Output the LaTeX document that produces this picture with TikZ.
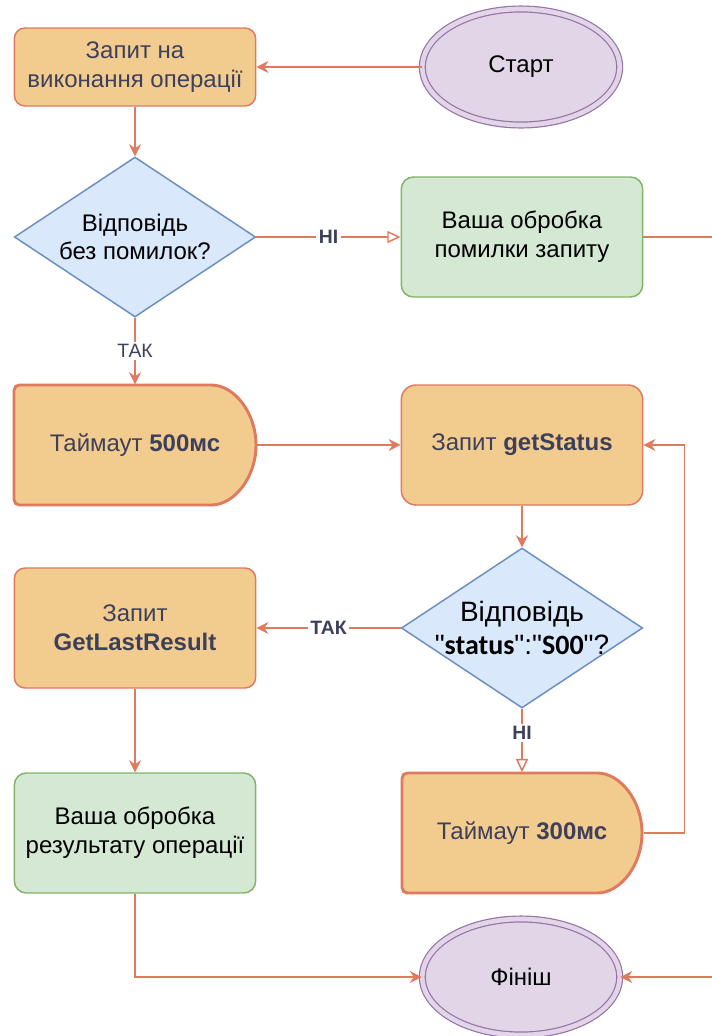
\documentclass[tikz,border=0pt]{standalone}
\usepackage{fontspec}
\setmainfont{Liberation Sans}
\newfontfamily\jsonfont{Carlito}
\newfontfamily\quotefont[Ligatures=ResetAll]{Liberation Sans}
\newcommand{\qm}{{\quotefont\char34}}
\usetikzlibrary{shapes.geometric, arrows.meta, positioning}
\definecolor{procfill}{HTML}{F2CC8F}
\definecolor{procline}{HTML}{E07A5F}
\definecolor{textdark}{HTML}{3D405B}
\definecolor{resfill}{HTML}{D5E8D4}
\definecolor{resline}{HTML}{82B366}
\definecolor{askfill}{HTML}{DAE8FC}
\definecolor{askline}{HTML}{6C8EBF}
\definecolor{termfill}{HTML}{E1D5E7}
\definecolor{termline}{HTML}{9673A6}

\begin{document}
\begin{tikzpicture}[
    x=0.75pt, y=-0.75pt,
    base/.style={align=center, font=\fontsize{18}{21.5}\selectfont, inner sep=2pt, line width=1.1pt},
    process/.style={base, rectangle, rounded corners=8pt, draw=procline, fill=procfill, text=textdark, minimum width=181pt, minimum height=90pt},
    result/.style={base, rectangle, rounded corners=9pt, draw=resline, fill=resfill, minimum width=181pt, minimum height=90pt},
    decision/.style={base, diamond, aspect=1.5, inner xsep=0pt, inner ysep=-7pt, draw=askline, fill=askfill, minimum width=181pt, minimum height=120pt},
    terminal/.style={base, ellipse, draw=termline, fill=termfill, double=termfill, double distance=3.5pt, line width=0.9pt, minimum width=148pt, minimum height=87pt},
    delayline/.style={draw=procline, fill=procfill, line width=2.2pt, rounded corners=4pt},
    delaytext/.style={base, text=textdark, minimum width=181.5pt, minimum height=90pt},
    flow/.style={-{Stealth[length=9pt, width=9pt, inset=3pt]}, line width=1.1pt, draw=procline},
    flowopen/.style={-{Triangle[open, length=10pt, width=9pt]}, line width=1.1pt, draw=procline},
    answer/.style={fill=white, text=textdark, font=\fontsize{14.5}{16}\selectfont, inner sep=2pt}
]
\useasboundingbox (0,0) rectangle (711,1036);

% Start
\node[terminal] (start) at (521,67) {Старт};
\node[process, minimum height=58.5pt] (request) at (135,67) {Запит на\\виконання операції};
\draw[flow] (start) -- (request);

% First check
\node[decision] (check) at (135,237) {Відповідь\\без помилок?};
\draw[flow] (request) -- (check);
\node[result] (error) at (522,237) {Ваша обробка\\помилки запиту};
\draw[flowopen] (check) -- node[answer]{\textbf{НІ}} (error);

% Timeout 500
\draw[delayline] (14,445) -- (14,385) -- (206,385) arc[start angle=90, end angle=-90, x radius=37.5pt, y radius=45pt] -- (14,505) -- cycle;
\node[delaytext] (wait1) at (135,445) {Таймаут \textbf{500мс}};
\draw[flow] (check) -- node[answer]{ТАК} (wait1);

% getStatus
\node[process, rounded corners=11pt] (getst) at (522,445) {Запит \textbf{getStatus}};
\draw[flow] (wait1) -- (getst);
\node[decision, font=\fontsize{21}{25}\selectfont] (status) at (522,628) {Відповідь\\\qm{\jsonfont\bfseries status}\qm:\qm{\jsonfont\bfseries S00}\qm?};
\draw[flow] (getst) -- (status);

% GetLastResult
\node[process] (glr) at (135,628) {Запит\\\textbf{GetLastResult}};
\draw[flow] (status) -- node[answer]{\textbf{ТАК}} (glr);

% Timeout 300
\draw[delayline] (402,833) -- (402,773) -- (592,773) arc[start angle=90, end angle=-90, x radius=37.5pt, y radius=45pt] -- (402,893) -- cycle;
\node[delaytext] (wait2) at (522,833) {Таймаут \textbf{300мс}};
\draw[flowopen] (status) -- node[answer, pos=0.38]{\textbf{НІ}} (wait2);
\draw[flow] (wait2.east) -- ++(41,0) |- (getst);

% Result
\node[result] (res) at (135,833) {Ваша обробка\\результату операції};
\draw[flow] (glr) -- (res);

% Finish
\node[terminal] (finish) at (521,977) {Фініш};
\draw[flow] (res) |- (finish);
\draw[flow] (error.east) -- ++(100,0) |- (finish);

\end{tikzpicture}
\end{document}
